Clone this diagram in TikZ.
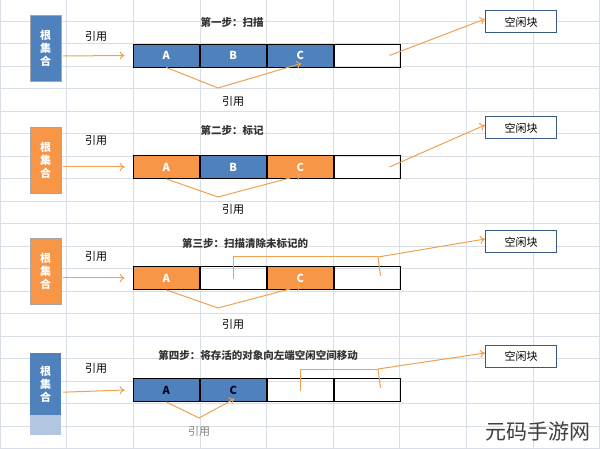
\documentclass[tikz,border=0pt]{standalone}
\usepackage{fontspec}
\setmainfont{Noto Sans CJK SC}
\usetikzlibrary{positioning,arrows.meta}
\definecolor{gcblue}{HTML}{4F81BD}
\definecolor{gcorange}{HTML}{F79646}
\definecolor{gcarrow}{HTML}{F0A050}
\definecolor{gcgrid}{HTML}{D9DEE6}
\tikzset{
  cell/.style={draw=black, line width=0.8pt, minimum width=66.3pt, minimum height=23pt, inner sep=0pt, font=\bfseries\fontsize{11}{11}\selectfont, text=white},
  rootbox/.style={draw=gray!70, minimum width=31pt, minimum height=66pt, inner sep=0pt, text=white, font=\bfseries\fontsize{11}{13}\selectfont, align=center},
  freebox/.style={draw=gcblue!70!black, line width=1pt, fill=white, minimum width=71pt, minimum height=22pt, font=\fontsize{11}{11}\selectfont},
  ref/.style={gcarrow, line width=1pt, -{To[length=5pt,width=8pt]}},
  refline/.style={gcarrow, line width=1pt},
  lbl/.style={font=\fontsize{11}{11}\selectfont},
  steptitle/.style={font=\bfseries\fontsize{10.5}{11}\selectfont, text=black!80}
}
\begin{document}
\begin{tikzpicture}[x=1pt,y=-1pt]
   \useasboundingbox (0,0) rectangle (600,449);
   \fill[white] (0,0) rectangle (600,449);
   % grid of the sheet
   \foreach \gx in {0,66.6,...,600} \draw[gcgrid] (\gx,0) -- (\gx,449);
   \foreach \gy in {21,43.5,...,449} \draw[gcgrid] (0,\gy) -- (600,\gy);

   % step 1
   \node[rootbox, fill=gcblue] (r1) at (45.5,48) {根\\集\\合};
   \node[cell, fill=gcblue] (a1) at (166.2,55.5) {A};
   \node[cell, fill=gcblue, right=0pt of a1] (b1) {B};
   \node[cell, fill=gcblue, right=0pt of b1] (c1) {C};
   \node[cell, right=0pt of c1] (d1) {};
   \node[steptitle] (t1) at (232,22) {第一步：扫描};
   \node[lbl] (u1) at (96,36) {引用};
   \node[lbl] (v1) at (233,101) {引用};
   \node[freebox] (f1) at (521,22) {空闲块};
   \coordinate (k1) at (218,88);
   \draw[ref] (r1.east) ++(2,8) -- ([xshift=-8pt]a1.west);
   \draw[ref] (a1.south) -- (k1) -- ([xshift=1pt,yshift=4pt]c1.south);
   \draw[ref] ([xshift=22pt]d1.center) -- ([yshift=3pt]f1.west);

   % step 2
   \node[rootbox, fill=gcorange] (r2) at (45.5,160) {根\\集\\合};
   \node[cell, fill=gcorange] (a2) at (166.2,167) {A};
   \node[cell, fill=gcblue, right=0pt of a2] (b2) {B};
   \node[cell, fill=gcorange, right=0pt of b2] (c2) {C};
   \node[cell, right=0pt of c2] (d2) {};
   \node[steptitle] (t2) at (232,130) {第二步：标记};
   \node[lbl] (u2) at (96,140) {引用};
   \node[lbl] (v2) at (233,209) {引用};
   \node[freebox] (f2) at (521,128) {空闲块};
   \coordinate (k2) at (218,197);
   \draw[ref] (r2.east) ++(2,7) -- ([xshift=-8pt]a2.west);
   \draw[ref] (a2.south) -- (k2) -- ([xshift=1pt,yshift=4pt]c2.south);
   \draw[ref] ([xshift=22pt]d2.center) -- ([yshift=3pt]f2.west);

   % step 3
   \node[rootbox, fill=gcorange] (r3) at (45.5,271) {根\\集\\合};
   \node[cell, fill=gcorange] (a3) at (166.2,278) {A};
   \node[cell, right=0pt of a3] (b3) {};
   \node[cell, fill=gcorange, right=0pt of b3] (c3) {C};
   \node[cell, right=0pt of c3] (d3) {};
   \node[steptitle] (t3) at (245,243) {第三步：扫描清除未标记的};
   \node[lbl] (u3) at (96,256) {引用};
   \node[lbl] (v3) at (233,324) {引用};
   \node[freebox] (f3) at (521,242) {空闲块};
   \coordinate (k3) at (218,308);
   \coordinate (j3) at (378,257);
   \draw[ref] (r3.east) ++(2,7) -- ([xshift=-8pt]a3.west);
   \draw[ref] (a3.south) -- (k3) -- ([xshift=1pt,yshift=4pt]c3.south);
   \draw[refline] ([yshift=-1pt]b3.center) |- (j3);
   \draw[refline] ([xshift=13pt,yshift=2pt]d3.center) -- (j3);
   \draw[ref] (j3) -- ([yshift=3pt]f3.west);

   % step 4
   \fill[gcblue!45] (30,415) rectangle (61,435);
   \node[rootbox, fill=gcblue, draw=none, minimum height=62pt, anchor=north] (r4) at (45.5,353) {根\\集\\合};
   \node[cell, fill=gcblue, text=black!85!blue] (a4) at (166.2,390) {A};
   \node[cell, fill=gcblue, text=black!85!blue, right=0pt of a4] (c4) {C};
   \node[cell, right=0pt of c4] (d4) {};
   \node[cell, right=0pt of d4] (e4) {};
   \node[steptitle] (t4) at (258,355) {第四步：将存活的对象向左端空闲空间移动};
   \node[lbl] (u4) at (96,368) {引用};
   \node[lbl, text=gray] (v4) at (199,431) {引用};
   \node[freebox] (f4) at (521,356) {空闲块};
   \coordinate (k4) at (199,418);
   \coordinate (j4) at (378,369);
   \draw[ref] (r4.east) ++(2,8) -- ([xshift=-8pt]a4.west);
   \draw[ref] (a4.south) -- (k4) -- ([xshift=1pt,yshift=3pt]c4.south);
   \draw[refline] ([yshift=-1pt]d4.center) |- (j4);
   \draw[refline] ([xshift=13pt,yshift=2pt]e4.center) -- (j4);
   \draw[ref] (j4) -- ([yshift=3pt]f4.west);

   \node[font=\fontsize{21}{21}\selectfont, text=black!75] (w) at (538,432) {元码手游网};
\end{tikzpicture}
\end{document}
